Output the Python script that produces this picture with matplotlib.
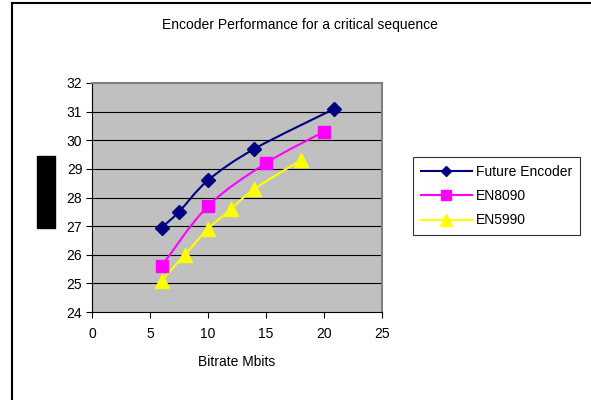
import matplotlib
matplotlib.use("Agg")
import matplotlib.pyplot as plt
from matplotlib.path import Path
from matplotlib.patches import PathPatch
from matplotlib.lines import Line2D
import numpy as np

plt.rcParams['font.family'] = ['Liberation Sans', 'DejaVu Sans']

title = "Encoder Performance for a critical sequence"
xlabel = "Bitrate Mbits"
ylabel = "PSNR (dB)"

future_x = [6.0, 7.5, 10.0, 14.0, 20.9]
future_y = [26.95, 27.5, 28.6, 29.7, 31.1]
en8090_x = [6.0, 10.0, 15.0, 20.0]
en8090_y = [25.6, 27.7, 29.2, 30.3]
en5990_x = [6.0, 8.0, 10.0, 12.0, 14.0, 18.0]
en5990_y = [25.1, 26.0, 26.9, 27.6, 28.3, 29.3]

xticks = [0, 5, 10, 15, 20, 25]
yticks = [24, 25, 26, 27, 28, 29, 30, 31, 32]

series = [
    ("Future Encoder", future_x, future_y, "#000080", "D", 7),
    ("EN8090", en8090_x, en8090_y, "#FF00FF", "s", 9),
    ("EN5990", en5990_x, en5990_y, "#FFFF00", "^", 10),
]

fig = plt.figure(figsize=(5.91, 4.0), dpi=100)
fig.patch.set_facecolor("white")
ax = fig.add_axes([92/591, 88/400, 290/591, 229/400])
ax.set_facecolor("#C0C0C0")
ax.set_xlim(0, 25)
ax.set_ylim(24, 32)
ax.set_xticks(xticks)
ax.set_yticks(yticks)
ax.tick_params(axis='both', direction='out', length=4, width=0.8, labelsize=10, colors='black')
ax.tick_params(axis='x', pad=7)
ax.tick_params(axis='y', pad=3)
for y in yticks[1:-1]:
    ax.axhline(y, color='black', lw=0.8, zorder=1)
for s in ['top', 'right']:
    ax.spines[s].set_color('#808080')
    ax.spines[s].set_linewidth(1.5)
ax.spines['left'].set_color('black')
ax.spines['bottom'].set_color('black')
ax.spines['left'].set_linewidth(0.8)
ax.spines['bottom'].set_linewidth(0.8)


def smooth_path(xs, ys):
    pts = np.column_stack([xs, ys]).astype(float)
    n = len(pts)
    verts = [pts[0]]
    codes = [Path.MOVETO]
    for i in range(n - 1):
        p0 = pts[i - 1] if i > 0 else pts[i]
        p1 = pts[i]
        p2 = pts[i + 1]
        p3 = pts[i + 2] if i + 2 < n else pts[i + 1]
        c1 = p1 + (p2 - p0) / 6.0
        c2 = p2 - (p3 - p1) / 6.0
        verts += [c1, c2, p2]
        codes += [Path.CURVE4] * 3
    return Path(verts, codes)

handles = []
for name, xs, ys, col, mk, ms in series:
    patch = PathPatch(smooth_path(xs, ys), facecolor='none', edgecolor=col, lw=1.5, zorder=3)
    ax.add_patch(patch)
    ax.plot(xs, ys, linestyle='none', marker=mk, markersize=ms, color=col,
            markeredgecolor=col, zorder=4, clip_on=False)
    handles.append(Line2D([0], [0], color=col, lw=1.5, marker=mk, markersize=ms * 0.8,
                          markeredgecolor=col))

leg = fig.legend(handles, [s[0] for s in series], loc='upper left',
                 bbox_to_anchor=(413/591, 1 - 157/400), fontsize=10,
                 frameon=True, fancybox=False, edgecolor='black',
                 handlelength=3.7, handletextpad=0.3, labelspacing=0.75,
                 borderpad=0.55, borderaxespad=0)
leg.get_frame().set_linewidth(0.8)

fig.text(300/591, 1 - 25/400, title, ha='center', va='center', fontsize=10)
fig.text(237/591, 1 - 362/400, xlabel, ha='center', va='center', fontsize=10)
fig.text(46/591, 1 - 192/400, ylabel, ha='center', va='center', fontsize=10, rotation=90,
         color='black', bbox=dict(facecolor='black', edgecolor='black', pad=1.5))

# figure border (top and left visible)
fig.add_artist(Line2D([12/591, 12/591], [0, 1 - 3/400], color='black', lw=1.5, transform=fig.transFigure))
fig.add_artist(Line2D([12/591, 1], [1 - 3/400, 1 - 3/400], color='black', lw=1.5, transform=fig.transFigure))

fig.savefig("out.png", dpi=100)
